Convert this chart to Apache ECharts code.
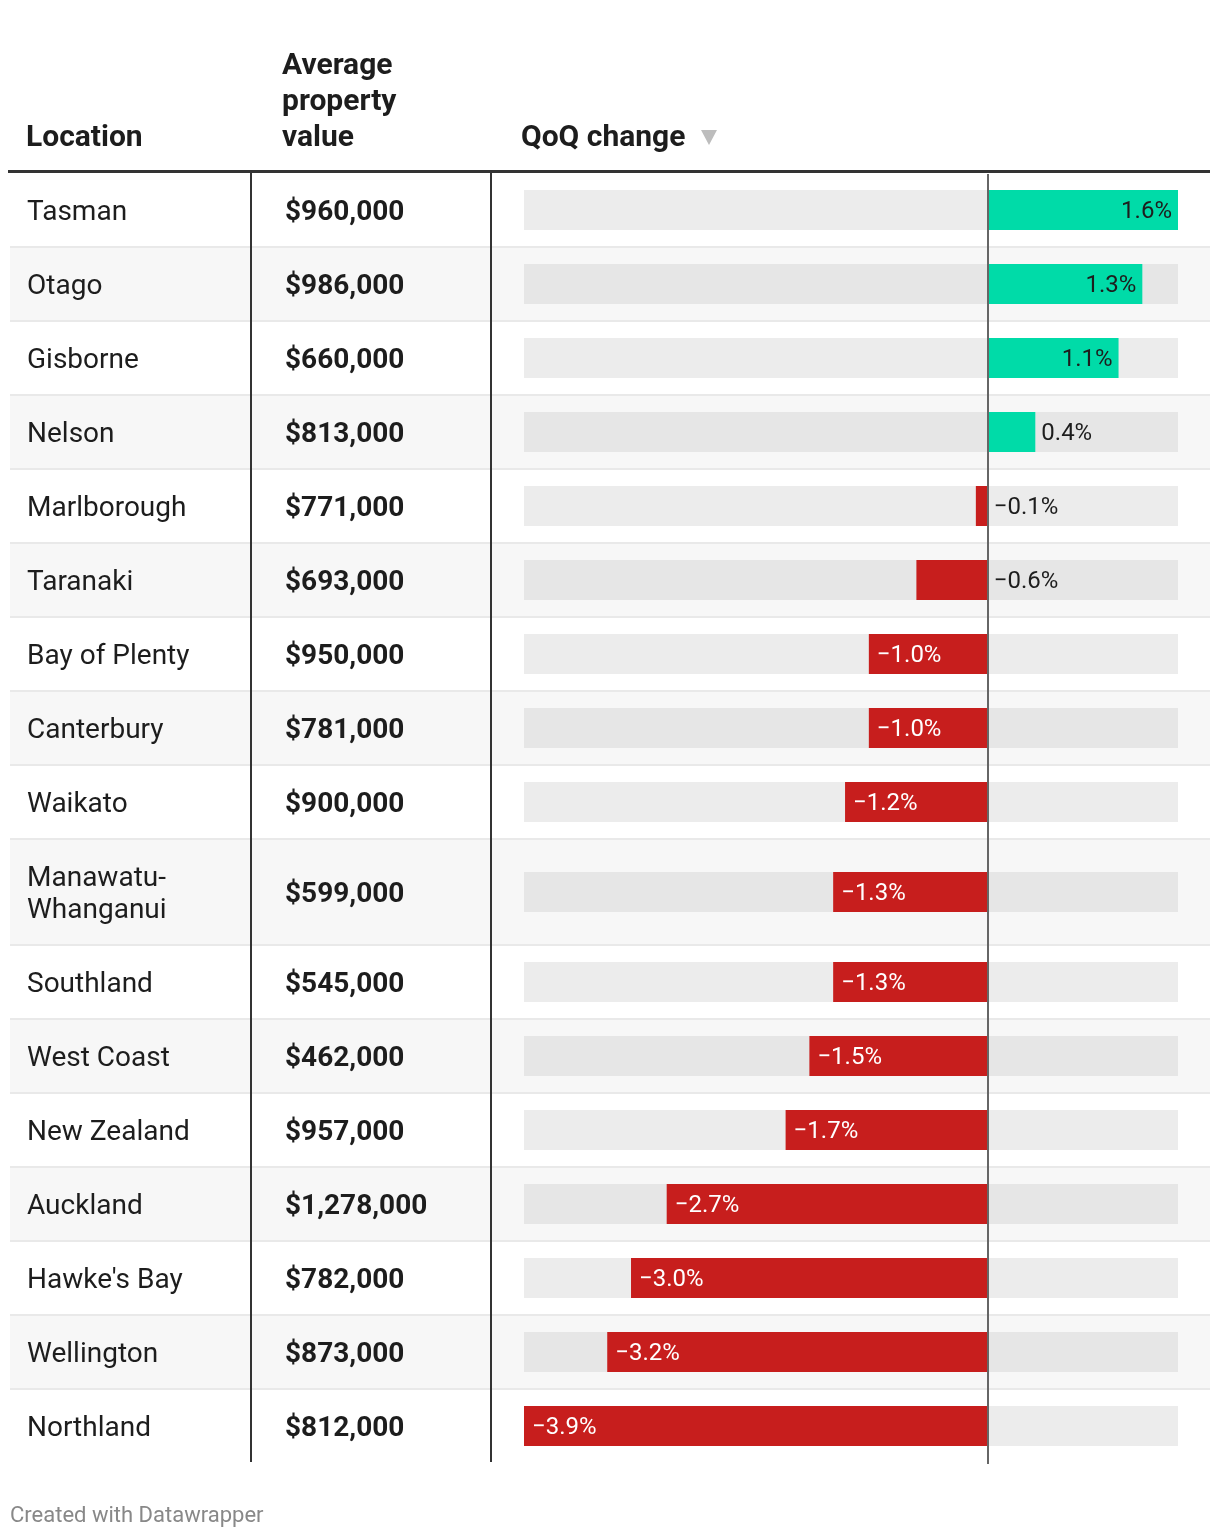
<!DOCTYPE html>
<html>
<head>
<meta charset="utf-8">
<script src="https://cdn.jsdelivr.net/npm/echarts@6/dist/echarts.min.js"></script>
<style>
html,body{margin:0;padding:0;background:#fff;}
#chart{width:1220px;height:1538px;}
</style>
</head>
<body>
<div id="chart"></div>
<script>
// ---- data ----
const locations = ['Tasman','Otago','Gisborne','Nelson','Marlborough','Taranaki','Bay of Plenty','Canterbury','Waikato','Manawatu-\nWhanganui','Southland','West Coast','New Zealand','Auckland',"Hawke's Bay",'Wellington','Northland'];
const propertyValues = [960000,986000,660000,813000,771000,693000,950000,781000,900000,599000,545000,462000,957000,1278000,782000,873000,812000];
const qoqChange = [1.6,1.3,1.1,0.4,-0.1,-0.6,-1.0,-1.0,-1.2,-1.3,-1.3,-1.5,-1.7,-2.7,-3.0,-3.2,-3.9];
const headers = ['Location', 'Average\nproperty\nvalue', 'QoQ change'];

// ---- layout ----
const FONT = 'Roboto, "Noto Sans", sans-serif';
const BASE_ROW = 74, EXTRA_LINE = 32;
const rowHeights = locations.map(l => BASE_ROW + EXTRA_LINE * (l.split('\n').length - 1));
const rowStarts = [];
rowHeights.reduce((acc, h) => { rowStarts.push(acc); return acc + h; }, 0);
const totalH = rowHeights.reduce((a, b) => a + b, 0);
const TOP = 174;

const fmtMoney = v => '$' + v.toLocaleString('en-US');
const fmtPct = v => (v < 0 ? '\u2212' : '') + Math.abs(v).toFixed(1) + '%';

const rows = locations.map((l, i) => [qoqChange[i], rowStarts[i], rowHeights[i], i]);

function txt(text, x, y, font, fill, align, extra) {
  return Object.assign({ text: text, x: x, y: y, font: font, fill: fill,
    textAlign: align, textVerticalAlign: 'middle', align: align, verticalAlign: 'middle' }, extra || {});
}

function renderRow(params, api) {
  const i = api.value(3);
  const v = api.value(0);
  const start = api.value(1);
  const h = api.value(2);
  const xMin = api.coord([-3.9, start])[0];
  const xMax = api.coord([1.6, start])[0];
  const x0 = api.coord([0, start])[0];
  const xv = api.coord([v, start])[0];
  const yTop = api.coord([0, start])[1];
  const yBot = api.coord([0, start + h])[1];
  const isLast = i === locations.length - 1;
  const cy = yTop + (h - 2) / 2;
  const odd = i % 2 === 1;
  const children = [];
  children.push({ type: 'rect', shape: { x: 10, y: yTop, width: 1200, height: h - 2 }, style: { fill: odd ? '#f7f7f7' : '#ffffff' } });
  if (!isLast) children.push({ type: 'rect', shape: { x: 10, y: yBot - 2, width: 1200, height: 2 }, style: { fill: '#e9e9e9' } });
  children.push({ type: 'rect', shape: { x: xMin, y: cy - 20, width: xMax - xMin, height: 40 }, style: { fill: odd ? '#e6e6e6' : '#ececec' } });
  children.push({ type: 'rect', shape: { x: Math.min(x0, xv), y: cy - 20, width: Math.abs(xv - x0), height: 40 }, style: { fill: v >= 0 ? '#00dba8' : '#c71e1d' } });
  const barW = Math.abs(xv - x0);
  const inside = barW > 100;
  let lx, align, col;
  if (v >= 0) {
    if (inside) { lx = xv - 6; align = 'right'; col = '#1d1d1d'; }
    else { lx = xv + 6; align = 'left'; col = '#1d1d1d'; }
  } else {
    if (inside) { lx = xv + 8; align = 'left'; col = '#ffffff'; }
    else { lx = x0 + 6; align = 'left'; col = '#1d1d1d'; }
  }
  children.push({ type: 'text', style: txt(fmtPct(v), lx, cy + 2, '24px ' + FONT, col, align) });
  children.push({ type: 'text', style: txt(locations[i], 27, cy + 3, '28px ' + FONT, '#1d1d1d', 'left', { lineHeight: 32 }) });
  children.push({ type: 'text', style: txt(fmtMoney(propertyValues[i]), 285, cy + 3, 'bold 28px ' + FONT, '#1d1d1d', 'left') });
  return { type: 'group', children: children };
}

const chart = echarts.init(document.getElementById('chart'), null, { renderer: 'canvas' });
chart.setOption({
  animation: false,
  backgroundColor: '#ffffff',
  grid: { left: 524, width: 654, top: TOP, height: totalH },
  xAxis: { type: 'value', min: -3.9, max: 1.6, show: false },
  yAxis: { type: 'value', min: 0, max: totalH, inverse: true, show: false },
  graphic: [
    { type: 'text', style: txt(headers[0], 26, 138, 'bold 30px ' + FONT, '#1d1d1d', 'left') },
    { type: 'text', style: txt(headers[1], 282, 102, 'bold 30px ' + FONT, '#1d1d1d', 'left', { lineHeight: 36 }) },
    { type: 'text', style: txt(headers[2], 521, 138, 'bold 30px ' + FONT, '#1d1d1d', 'left') },
    { type: 'polygon', shape: { points: [[701, 130], [717, 130], [709, 145]] }, style: { fill: '#bdbdbd' } },
    { type: 'rect', shape: { x: 8, y: 170, width: 1202, height: 3 }, style: { fill: '#333333' }, z: 10 },
    { type: 'rect', shape: { x: 250, y: 173, width: 2, height: 1289 }, style: { fill: '#333333' }, z: 10 },
    { type: 'rect', shape: { x: 490, y: 173, width: 2, height: 1289 }, style: { fill: '#333333' }, z: 10 },
    { type: 'text', style: txt('Created with Datawrapper', 10, 1516, '22px ' + FONT, '#888888', 'left') }
  ],
  series: [
    {
      type: 'custom',
      renderItem: renderRow,
      data: rows,
      clip: false,
      silent: true,
      markLine: {
        silent: true, symbol: 'none', label: { show: false },
        lineStyle: { color: '#666666', width: 2, type: 'solid' },
        data: [{ xAxis: 0 }]
      },
      z: 2
    }
  ]
});
</script>
</body>
</html>
